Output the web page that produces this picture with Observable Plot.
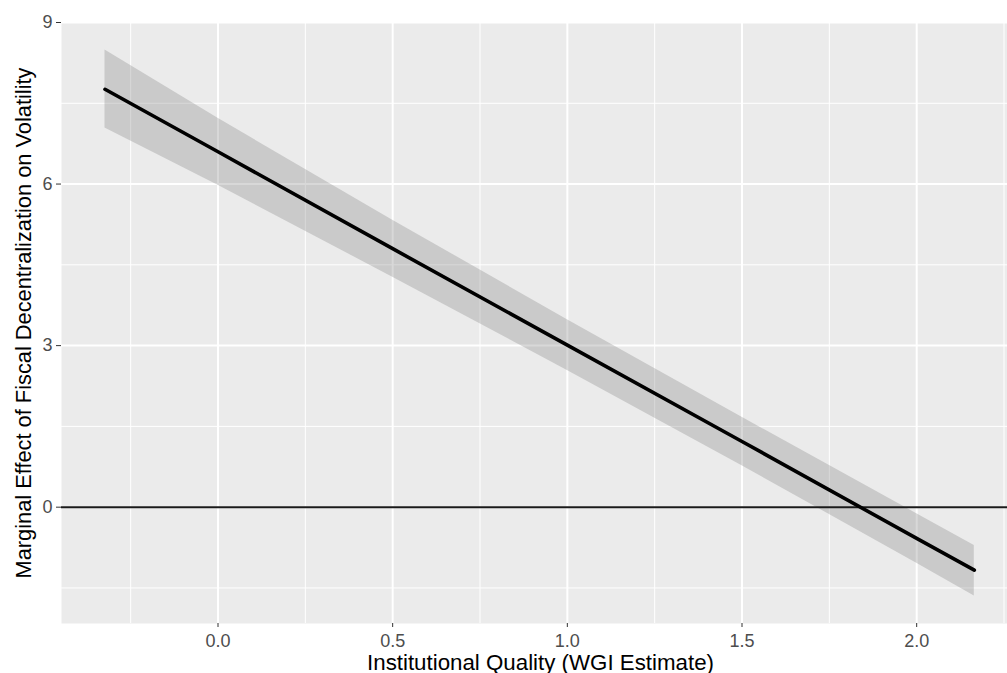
<!DOCTYPE html>
<html>
<head>
<meta charset="utf-8">
<script src="https://cdn.jsdelivr.net/npm/d3@7"></script>
<script src="https://cdn.jsdelivr.net/npm/@observablehq/plot@0.6"></script>
<style>
  html, body { margin: 0; padding: 0; background: #fff; }
  #chart svg { display: block; }
</style>
</head>
<body>
<div id="chart"></div>
<script>
// Data
const xVals     = [-0.3235, 0.0, 0.5, 1.0, 1.5, 2.0, 2.165];
const fitVals   = [7.76, 6.60, 4.80, 3.01, 1.22, -0.58, -1.17];
const lowerVals = [7.04, 5.98, 4.27, 2.54, 0.77, -1.04, -1.65];
const upperVals = [8.49, 7.22, 5.33, 3.48, 1.67, -0.12, -0.71];

const xMajorTicks = [0, 0.5, 1.0, 1.5, 2.0];
const xMinorTicks = [-0.25, 0.25, 0.75, 1.25, 1.75, 2.25];
const yMajorTicks = [0, 3, 6, 9];
const yMinorTicks = [-1.5, 1.5, 4.5, 7.5];

const xTitle = "Institutional Quality (WGI Estimate)";
const yTitle = "Marginal Effect of Fiscal Decentralization on Volatility";

const rows = xVals.map((x, i) => ({x, fit: fitVals[i], lo: lowerVals[i], hi: upperVals[i]}));

const chart = Plot.plot({
  width: 1007,
  height: 673,
  marginTop: 22,
  marginBottom: 50,
  marginLeft: 61,
  marginRight: 0,
  style: {fontFamily: "'Liberation Sans', Arial, sans-serif", fontSize: "18px", background: "white", overflow: "visible"},
  x: {domain: [-0.448, 2.260]},
  y: {domain: [-2.16, 9.0]},
  marks: [
    Plot.frame({fill: "#ebebeb", stroke: null}),
    Plot.ruleX(xMinorTicks, {stroke: "white", strokeWidth: 1}),
    Plot.ruleY(yMinorTicks, {stroke: "white", strokeWidth: 1}),
    Plot.ruleX(xMajorTicks, {stroke: "white", strokeWidth: 2}),
    Plot.ruleY(yMajorTicks, {stroke: "white", strokeWidth: 2}),
    Plot.areaY(rows, {x: "x", y1: "lo", y2: "hi", fill: "#7f7f7f", fillOpacity: 0.3}),
    Plot.ruleY([0], {stroke: "#1a1a1a", strokeWidth: 1.9}),
    Plot.line(rows, {x: "x", y: "fit", stroke: "black", strokeWidth: 3.6}),
    Plot.axisX({ticks: xMajorTicks, tickFormat: d3.format(".1f"), tickSize: 4, tickPadding: 7,
                stroke: "#333", fill: "#4d4d4d", label: null}),
    Plot.axisY({ticks: yMajorTicks, tickFormat: d3.format("d"), tickSize: 5, tickPadding: 4,
                stroke: "#333", fill: "#4d4d4d", label: null}),
    Plot.text([xTitle], {text: d => d, frameAnchor: "bottom", lineAnchor: "middle", textAnchor: "middle",
                         dx: 6, dy: 39, fontSize: 22.3, fill: "black"}),
    Plot.text([yTitle], {text: d => d, frameAnchor: "left", lineAnchor: "middle", textAnchor: "middle",
                         dx: -37.5, rotate: -90, fontSize: 21.8, fill: "black"})
  ]
});
document.getElementById("chart").appendChild(chart);
</script>
</body>
</html>
